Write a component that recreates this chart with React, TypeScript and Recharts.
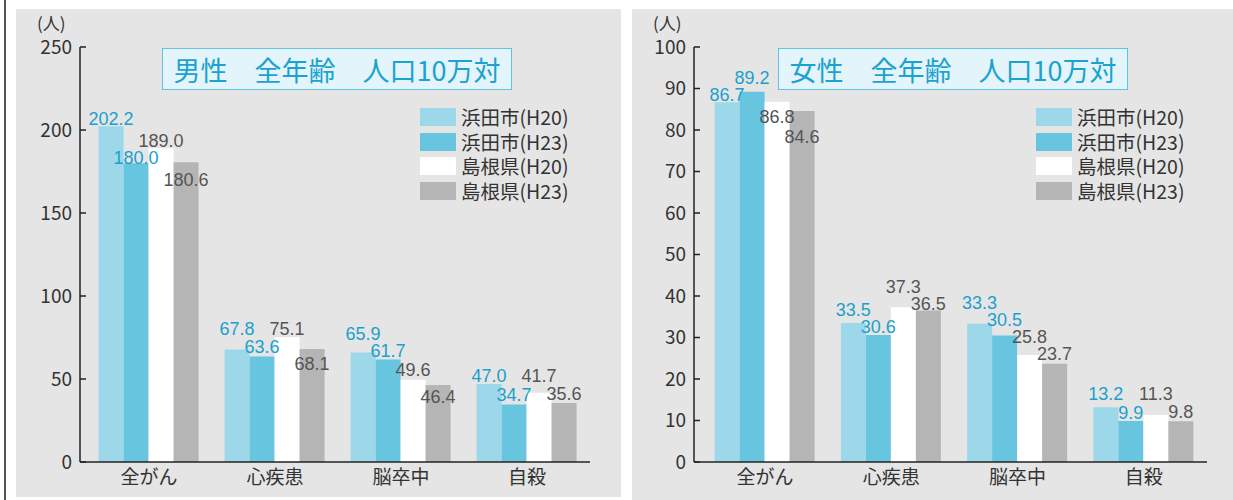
import React from "react";
import { BarChart, Bar, XAxis, YAxis, LabelList, Legend } from "recharts";

// categories and series
const categories = ["全がん", "心疾患", "脳卒中", "自殺"];
const seriesNames = ["浜田市(H20)", "浜田市(H23)", "島根県(H20)", "島根県(H23)"];

// male, per 100k
const maleHamadaH20 = [202.2, 67.8, 65.9, 47.0];
const maleHamadaH23 = [180.0, 63.6, 61.7, 34.7];
const maleShimaneH20 = [189.0, 75.1, 49.6, 41.7];
const maleShimaneH23 = [180.6, 68.1, 46.4, 35.6];

// female, per 100k
const femaleHamadaH20 = [86.7, 33.5, 33.3, 13.2];
const femaleHamadaH23 = [89.2, 30.6, 30.5, 9.9];
const femaleShimaneH20 = [86.8, 37.3, 25.8, 11.3];
const femaleShimaneH23 = [84.6, 36.5, 23.7, 9.8];

const maleTicks = [0, 50, 100, 150, 200, 250];
const femaleTicks = [0, 10, 20, 30, 40, 50, 60, 70, 80, 90, 100];

// value labels are staggered in the original so neighbours don't collide
// (vertical nudge in px, per series, per category)
const maleLabelNudge = [
  [2, -11, -10, 1],
  [4, 0, 0, 0],
  [2, 1, -1, -8],
  [27, 24, 21, 0],
];
const femaleLabelNudge = [
  [2, -4, -12, -4],
  [-5, 1, -6, 1],
  [24, -11, -9, -12],
  [35, 2, -1, 0],
];

const barColors = ["#9CD8EA", "#68C5E0", "#FFFFFF", "#B4B5B4"];
const labelColors = ["#1BA0CD", "#1BA0CD", "#555555", "#555555"];
const keys = ["s0", "s1", "s2", "s3"];

const JP = "'Noto Sans CJK JP', 'Noto Sans', sans-serif";
const NUM = "'Liberation Sans', Arial, sans-serif";
const AXIS = "#222";

function buildRows(series: number[][]) {
  return categories.map((name, i) => {
    const row: Record<string, string | number> = { name };
    series.forEach((s, j) => (row[keys[j]] = s[i]));
    return row;
  });
}

const maleRows = buildRows([maleHamadaH20, maleHamadaH23, maleShimaneH20, maleShimaneH23]);
const femaleRows = buildRows([femaleHamadaH20, femaleHamadaH23, femaleShimaneH20, femaleShimaneH23]);

const TICK_MARGIN = 8;

// y tick: label on the left, short tick pointing into the plot
const YTick = (props: any) => {
  const { x, y, payload } = props;
  const ax = x + TICK_MARGIN;
  return (
    <g>
      <line x1={ax} x2={ax + 6} y1={y} y2={y} stroke={AXIS} strokeWidth={1.5} />
      <text x={x} y={y} dy="0.36em" textAnchor="end" fontSize={19} fill="#333" fontFamily={JP}>
        {payload.value}
      </text>
    </g>
  );
};

const renderLegend = () => (
  <div style={{ display: "flex", flexDirection: "column", gap: 4.5 }}>
    {seriesNames.map((n, i) => (
      <div key={n} style={{ display: "flex", alignItems: "center", height: 20 }}>
        <span style={{ width: 36, height: 18, background: barColors[i], display: "inline-block" }} />
        <span style={{ marginLeft: 5, fontSize: 19.5, color: "#333", fontFamily: JP, lineHeight: "20px" }}>{n}</span>
      </div>
    ))}
  </div>
);

interface PanelProps {
  left: number;
  width: number;
  height: number;
  title: string;
  rows: Record<string, string | number>[];
  ticks: number[];
  nudge: number[][];
  yWidth: number;
  padLeft: number;
  marginRight: number;
  marginBottom: number;
}

function Panel({ left, width, height, title, rows, ticks, nudge, yWidth, padLeft, marginRight, marginBottom }: PanelProps) {
  const max = ticks[ticks.length - 1];
  return (
    <div style={{ position: "absolute", left, top: 9, width, height, background: "#E5E5E5" }}>
      <BarChart
        width={width}
        height={height}
        data={rows}
        margin={{ top: 38, right: marginRight, left: 0, bottom: marginBottom }}
        barCategoryGap="10%"
        barGap={0}
      >
        <XAxis
          dataKey="name"
          height={35}
          padding={{ left: padLeft, right: 0 }}
          tickSize={0}
          tickMargin={9}
          axisLine={{ stroke: AXIS, strokeWidth: 1.5 }}
          tick={{ fontSize: 19, fill: "#333", fontFamily: JP }}
        />
        <YAxis
          width={yWidth}
          domain={[0, max]}
          ticks={ticks}
          interval={0}
          tickSize={0}
          tickMargin={TICK_MARGIN}
          axisLine={{ stroke: AXIS, strokeWidth: 1.5 }}
          tick={<YTick />}
        />
        <YAxis
          yAxisId="right"
          orientation="right"
          width={0}
          domain={[0, max]}
          ticks={ticks}
          tick={false}
          tickLine={false}
          axisLine={{ stroke: AXIS, strokeWidth: 1.5 }}
        />
        <Legend
          layout="vertical"
          align="center"
          verticalAlign="middle"
          content={renderLegend}
          wrapperStyle={{ left: 404, top: 98, width: 190, height: 100 }}
        />
        {keys.map((k, i) => (
          <Bar key={k} dataKey={k} name={seriesNames[i]} fill={barColors[i]} isAnimationActive={false}>
            <LabelList
              dataKey={k}
              content={(p: any) => (
                <text
                  x={p.x + p.width / 2}
                  y={p.y - 3 + nudge[i][p.index]}
                  textAnchor="middle"
                  fill={labelColors[i]}
                  fontSize={18}
                  fontFamily={NUM}
                >
                  {Number(p.value).toFixed(1)}
                </text>
              )}
            />
          </Bar>
        ))}
      </BarChart>
      {/* unit and title box */}
      <div style={{ position: "absolute", left: 21, top: 1, fontSize: 17, color: "#333", fontFamily: JP }}>(人)</div>
      <div
        style={{
          position: "absolute",
          left: 146,
          top: 39,
          width: 348,
          height: 40,
          background: "#E3F4FA",
          border: "1.5px solid #62C3E0",
          color: "#1AA3CE",
          fontSize: 27,
          fontFamily: JP,
          display: "flex",
          alignItems: "center",
          justifyContent: "center",
          whiteSpace: "pre",
        }}
      >
        {title}
      </div>
    </div>
  );
}

export default function App() {
  return (
    <div style={{ position: "absolute", left: 0, top: 0, width: 1233, height: 500, background: "#fff", overflow: "hidden" }}>
      <div style={{ position: "absolute", left: 4, top: 0, width: 2, height: 500, background: "#555" }} />
      <Panel
        left={16}
        width={605}
        height={488}
        title={"男性　全年齢　人口10万対"}
        rows={maleRows}
        ticks={maleTicks}
        nudge={maleLabelNudge}
        yWidth={64}
        padLeft={6}
        marginRight={31}
        marginBottom={0}
      />
      <Panel
        left={632}
        width={601}
        height={491}
        title={"女性　全年齢　人口10万対"}
        rows={femaleRows}
        ticks={femaleTicks}
        nudge={femaleLabelNudge}
        yWidth={62}
        padLeft={8}
        marginRight={26}
        marginBottom={3}
      />
    </div>
  );
}
